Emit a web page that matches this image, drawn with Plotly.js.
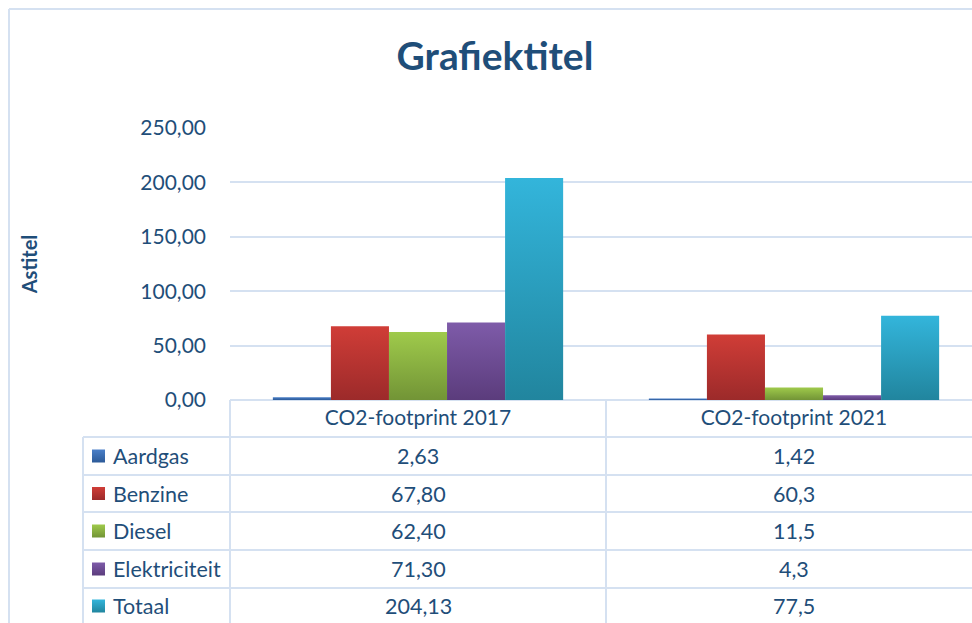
<!DOCTYPE html>
<html>
<head>
<meta charset="utf-8">
<script src="https://cdn.plot.ly/plotly-3.0.1.min.js"></script>
<style>
html,body{margin:0;padding:0;background:#fff;}
#chart{width:972px;height:623px;}
</style>
</head>
<body>
<div id="chart"></div>
<script>
// ---- data ----
const categories = ['CO2-footprint 2017', 'CO2-footprint 2021'];
const seriesNames = ['Aardgas', 'Benzine', 'Diesel', 'Elektriciteit', 'Totaal'];
const aardgas = [2.63, 1.42];
const benzine = [67.80, 60.3];
const diesel = [62.40, 11.5];
const elektriciteit = [71.30, 4.3];
const totaal = [204.13, 77.5];
const yTickValues = [0, 50, 100, 150, 200, 250];

// ---- style ----
const seriesValues = [aardgas, benzine, diesel, elektriciteit, totaal];
const solidColors = ['#3A6BB0', '#B8332F', '#8AB042', '#6C4B93', '#2A9CBD'];
const gradStops = [
  ['#4A7FC8', '#2C5A98'],
  ['#D03D37', '#9C2A2A'],
  ['#9FCA4B', '#729436'],
  ['#7E5BA9', '#5B3C7C'],
  ['#33B5DB', '#21859E']
];
const textColor = '#1F4E79';
const lineColor = '#D5E1F1';
const FONT = 'Lato, "Open Sans", sans-serif';

const W = 972, H = 623;
const PL = 230, PT = 128, PB = 400;   // plot area pixel edges
const PR = 972;
const PW = PR - PL, PH = PB - PT;
const px = v => (v - PL) / PW;
const py = v => (PB - v) / PH;

// table geometry (pixels)
const tableLeft = 83;
const colEdges = [230, 606];
const colCenters = [418, 794];
const rowLines = [437, 475, 512, 550, 588];
const rowCenters = [456, 493.5, 531, 569, 606];

const data = seriesNames.map((name, i) => ({
  type: 'bar',
  name: name,
  x: categories,
  y: seriesValues[i],
  marker: {color: solidColors[i], line: {width: 0}},
  hoverinfo: 'skip'
}));

const shapes = [];
const annotations = [];
const swatchIdx = [];
function hline(yPix, x0Pix, x1Pix) {
  shapes.push({type: 'line', xref: 'paper', yref: 'paper', x0: px(x0Pix), x1: px(x1Pix), y0: py(yPix), y1: py(yPix),
    line: {color: lineColor, width: 2}, layer: 'below'});
}
function vline(xPix, y0Pix, y1Pix) {
  shapes.push({type: 'line', xref: 'paper', yref: 'paper', x0: px(xPix), x1: px(xPix), y0: py(y0Pix), y1: py(y1Pix),
    line: {color: lineColor, width: 2}, layer: 'below'});
}
// outer chart border
vline(9, 9, H + 5);
hline(9, 9, W + 5);
// table grid
rowLines.forEach(y => hline(y, tableLeft, W + 5));
vline(tableLeft, rowLines[0], H + 5);
colEdges.forEach(x => vline(x, PB, H + 5));

const TFS = 21.5;
const fmt2017 = v => v.toFixed(2).replace('.', ',');
const fmt2021 = v => String(v).replace('.', ',');
seriesNames.forEach((name, i) => {
  const yc = rowCenters[i];
  swatchIdx.push(shapes.length);
  shapes.push({type: 'rect', xref: 'paper', yref: 'paper', x0: px(92), x1: px(105), y0: py(yc + 6.5), y1: py(yc - 6.5),
    fillcolor: solidColors[i], line: {width: 0}});
  annotations.push({xref: 'paper', yref: 'paper', x: px(111), y: py(yc), xanchor: 'left', yanchor: 'middle',
    text: name, showarrow: false, font: {family: FONT, size: TFS, color: textColor}});
  annotations.push({xref: 'paper', yref: 'paper', x: px(colCenters[0]), y: py(yc), xanchor: 'center', yanchor: 'middle',
    text: fmt2017(seriesValues[i][0]), showarrow: false, font: {family: FONT, size: TFS, color: textColor}});
  annotations.push({xref: 'paper', yref: 'paper', x: px(colCenters[1]), y: py(yc), xanchor: 'center', yanchor: 'middle',
    text: fmt2021(seriesValues[i][1]), showarrow: false, font: {family: FONT, size: TFS, color: textColor}});
});

const catWidth = 376;
const layout = {
  width: W, height: H,
  margin: {l: PL, r: W - PR, t: PT, b: H - PB, pad: 0},
  paper_bgcolor: '#ffffff', plot_bgcolor: '#ffffff',
  separators: ',.',
  showlegend: false,
  barmode: 'group',
  bargap: 0.228,
  bargroupgap: 0,
  font: {family: FONT, color: textColor},
  title: {
    text: '<b>Grafiektitel</b>',
    font: {family: FONT, size: 39, color: textColor},
    xref: 'container', yref: 'container',
    x: 495 / W, y: 1 - 56 / H, xanchor: 'center', yanchor: 'middle'
  },
  xaxis: {
    type: 'category',
    range: [-0.5, -0.5 + PW / catWidth],
    showgrid: false, zeroline: false, showline: false,
    ticks: '', ticklabelstandoff: 3,
    tickfont: {family: FONT, size: 21, color: textColor},
    fixedrange: true
  },
  yaxis: {
    range: [0, 250],
    tickvals: yTickValues,
    tickformat: '.2f',
    showgrid: true, gridcolor: lineColor, gridwidth: 2,
    zeroline: true, zerolinecolor: lineColor, zerolinewidth: 2,
    showline: false, ticks: '', ticklabelstandoff: 23,
    tickfont: {family: FONT, size: 21, color: textColor},
    title: {text: '<b>Astitel</b>', font: {family: FONT, size: 20, color: textColor}, standoff: 97},
    fixedrange: true
  },
  shapes: shapes,
  annotations: annotations
};

Plotly.newPlot('chart', data, layout, {staticPlot: true, displayModeBar: false}).then(gd => {
  const ns = 'http://www.w3.org/2000/svg';
  const svg = gd.querySelector('svg.main-svg');
  let defs = svg.querySelector('defs');
  if (!defs) { defs = document.createElementNS(ns, 'defs'); svg.insertBefore(defs, svg.firstChild); }
  gradStops.forEach((st, i) => {
    const lg = document.createElementNS(ns, 'linearGradient');
    lg.setAttribute('id', 'barGrad' + i);
    lg.setAttribute('x1', '0'); lg.setAttribute('y1', '0');
    lg.setAttribute('x2', '0'); lg.setAttribute('y2', '1');
    [[0, st[0]], [1, st[1]]].forEach(([o, c]) => {
      const s = document.createElementNS(ns, 'stop');
      s.setAttribute('offset', String(o));
      s.setAttribute('stop-color', c);
      lg.appendChild(s);
    });
    defs.appendChild(lg);
  });
  gd.querySelectorAll('.barlayer .trace').forEach((t, i) => {
    t.querySelectorAll('path').forEach(p => { p.style.fill = 'url(#barGrad' + i + ')'; });
  });
  swatchIdx.forEach((si, i) => {
    gd.querySelectorAll('path[data-index="' + si + '"]').forEach(p => { p.style.fill = 'url(#barGrad' + i + ')'; });
  });
});
</script>
</body>
</html>
